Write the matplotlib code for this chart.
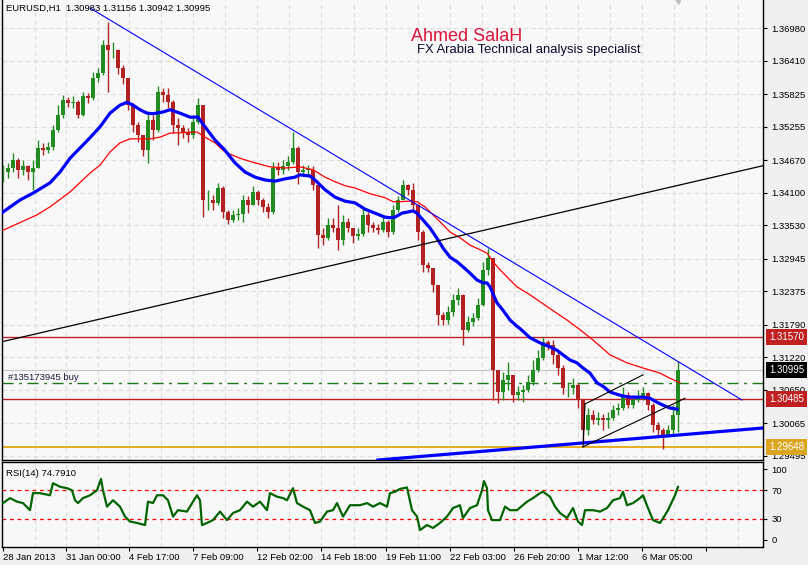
import numpy as np
import matplotlib
matplotlib.use("Agg")
import matplotlib.pyplot as plt
import matplotlib.transforms as mtransforms

plt.rcParams['font.family'] = ['Liberation Sans', 'DejaVu Sans']
plt.rcParams['font.size'] = 6.8

# EURUSD H1, one candle every 5 hours (28 Jan - 7 Mar 2013)
close = [1.3446, 1.3453, 1.3467, 1.3450, 1.3456, 1.3446, 1.3453, 1.3488, 1.3484, 1.3490,
         1.3519, 1.3546, 1.3572, 1.3567, 1.3568, 1.3546, 1.3579, 1.3575, 1.3610, 1.3619,
         1.3668, 1.3659, 1.3659, 1.3628, 1.3610, 1.3563, 1.3528, 1.3511, 1.3484, 1.3537,
         1.3519, 1.3586, 1.3581, 1.3568, 1.3528, 1.3523, 1.3516, 1.3511, 1.3533, 1.3563,
         1.3397, 1.3397, 1.3392, 1.3418, 1.3376, 1.3362, 1.3371, 1.3372, 1.3397, 1.3388,
         1.3411, 1.3397, 1.3385, 1.3376, 1.3453, 1.3450, 1.3456, 1.3463, 1.3488, 1.3446,
         1.3450, 1.3450, 1.3423, 1.3336, 1.3330, 1.3353, 1.3348, 1.3327, 1.3358, 1.3348,
         1.3334, 1.3337, 1.3371, 1.3353, 1.3348, 1.3344, 1.3358, 1.3341, 1.3379, 1.3397,
         1.3423, 1.3414, 1.3388, 1.3341, 1.3283, 1.3278, 1.3248, 1.3196, 1.3187, 1.3201,
         1.3222, 1.3231, 1.3169, 1.3183, 1.3190, 1.3213, 1.3274, 1.3295, 1.3099, 1.3061,
         1.3082, 1.3091, 1.3056, 1.3061, 1.3064, 1.3078, 1.3099, 1.3120, 1.3148, 1.3143,
         1.3126, 1.3103, 1.3068, 1.3068, 1.3073, 1.3047, 1.2994, 1.3021, 1.3012, 1.3015,
         1.3012, 1.3015, 1.3029, 1.3033, 1.3056, 1.3038, 1.3047, 1.3054, 1.3059, 1.3038,
         1.3003, 1.2994, 1.2986, 1.2994, 1.3021, 1.30995]
high = [1.3458, 1.3462, 1.3479, 1.3470, 1.3467, 1.3458, 1.3467, 1.3502, 1.3497, 1.3499,
        1.3528, 1.3563, 1.3581, 1.3577, 1.3579, 1.3572, 1.3586, 1.3584, 1.3621, 1.3628,
        1.3677, 1.3709, 1.3674, 1.3662, 1.3633, 1.3610, 1.3567, 1.3533, 1.3511, 1.3551,
        1.3546, 1.3597, 1.3593, 1.3593, 1.3572, 1.3541, 1.3528, 1.3523, 1.3541, 1.3575,
        1.3563, 1.3415, 1.3406, 1.3427, 1.3422, 1.3380, 1.3380, 1.3383, 1.3406, 1.3404,
        1.3422, 1.3415, 1.3401, 1.3392, 1.3463, 1.3463, 1.3467, 1.3474, 1.3516, 1.3492,
        1.3458, 1.3458, 1.3456, 1.3423, 1.3348, 1.3366, 1.3366, 1.3388, 1.3371, 1.3366,
        1.3348, 1.3348, 1.3383, 1.3376, 1.3358, 1.3355, 1.3371, 1.3362, 1.3388, 1.3404,
        1.3432, 1.3425, 1.3427, 1.3390, 1.3345, 1.3289, 1.3278, 1.3248, 1.3201, 1.3212,
        1.3233, 1.3243, 1.3233, 1.3194, 1.3199, 1.3226, 1.3289, 1.3313, 1.3295, 1.3099,
        1.3096, 1.3114, 1.3091, 1.3072, 1.3073, 1.3091, 1.3117, 1.3135, 1.3157, 1.3152,
        1.3152, 1.3131, 1.3108, 1.3078, 1.3086, 1.3077, 1.3047, 1.3033, 1.3029, 1.3026,
        1.3023, 1.3026, 1.3039, 1.3042, 1.3070, 1.3061, 1.3056, 1.3065, 1.3070, 1.3061,
        1.3042, 1.3009, 1.2998, 1.3003, 1.3038, 1.31156]
low = [1.3429, 1.3436, 1.3446, 1.3436, 1.3441, 1.3432, 1.3415, 1.3453, 1.3476, 1.3479,
       1.3484, 1.3516, 1.3541, 1.3560, 1.3558, 1.3541, 1.3544, 1.3567, 1.3572, 1.3604,
       1.3616, 1.3586, 1.3646, 1.3618, 1.3600, 1.3555, 1.3516, 1.3499, 1.3474, 1.3462,
       1.3502, 1.3516, 1.3568, 1.3558, 1.3514, 1.3493, 1.3506, 1.3499, 1.3506, 1.3530,
       1.3367, 1.3380, 1.3380, 1.3388, 1.3366, 1.3355, 1.3358, 1.3362, 1.3358, 1.3374,
       1.3388, 1.3388, 1.3376, 1.3366, 1.3372, 1.3441, 1.3443, 1.3450, 1.3460, 1.3425,
       1.3439, 1.3441, 1.3415, 1.3313, 1.3318, 1.3327, 1.3341, 1.3310, 1.3318, 1.3341,
       1.3322, 1.3327, 1.3334, 1.3341, 1.3341, 1.3337, 1.3341, 1.3332, 1.3337, 1.3376,
       1.3397, 1.3406, 1.3376, 1.3327, 1.3271, 1.3271, 1.3236, 1.3178, 1.3178, 1.3180,
       1.3194, 1.3213, 1.3143, 1.3166, 1.3176, 1.3187, 1.3212, 1.3266, 1.3047, 1.3042,
       1.3047, 1.3065, 1.3043, 1.3047, 1.3043, 1.3061, 1.3073, 1.3096, 1.3117, 1.3135,
       1.3110, 1.3091, 1.3058, 1.3052, 1.3058, 1.3033, 1.2974, 1.2986, 1.3005, 1.3003,
       1.2995, 1.2998, 1.3012, 1.3021, 1.3029, 1.3033, 1.3033, 1.3043, 1.3047, 1.3029,
       1.2991, 1.2986, 1.2961, 1.2982, 1.2988, 1.2991]

# moving averages as drawn on the chart (hour from start, price)
ma_fast_h = [0, 17, 30, 47, 57, 67, 77, 87, 97, 107, 117, 124, 130, 137, 144, 150, 160, 167,
             177, 187, 195, 202, 212, 222, 232, 242, 252, 262, 272, 282, 292, 297, 307, 312,
             322, 332, 342, 352, 362, 372, 382, 387, 392, 399, 405, 410, 414, 420, 427, 434,
             440, 447, 454, 460, 467, 474, 480, 484, 487, 494, 500, 507, 514, 517, 527, 537,
             547, 554, 560, 567, 574, 580, 587, 594, 600, 607, 614, 620, 627, 634, 640, 647,
             654, 660, 667, 674]
ma_fast = [1.3376, 1.3397, 1.3409, 1.3427, 1.3446, 1.3470, 1.3488, 1.3506, 1.3525, 1.3549,
           1.3563, 1.3568, 1.3563, 1.3555, 1.3549, 1.3548, 1.3551, 1.3555, 1.3549, 1.3542,
           1.3542, 1.3525, 1.3502, 1.3484, 1.3462, 1.3446, 1.3437, 1.3432, 1.3430, 1.3434,
           1.3437, 1.3441, 1.3439, 1.3432, 1.3415, 1.3402, 1.3395, 1.3392, 1.3381, 1.3374,
           1.3367, 1.3366, 1.3367, 1.3374, 1.3376, 1.3378, 1.3374, 1.3362, 1.3348, 1.3330,
           1.3313, 1.3297, 1.3289, 1.3280, 1.3269, 1.3257, 1.3252, 1.3252, 1.3245, 1.3217,
           1.3204, 1.3187, 1.3176, 1.3172, 1.3156, 1.3147, 1.3140, 1.3134, 1.3126, 1.3117,
           1.3112, 1.3103, 1.3094, 1.3077, 1.3071, 1.3061, 1.3057, 1.3054, 1.3052, 1.3052,
           1.3052, 1.3050, 1.3043, 1.3038, 1.3033, 1.3031]
ma_slow_h = [0, 34, 47, 67, 87, 97, 107, 117, 127, 147, 157, 167, 194, 202, 212, 222, 237, 252,
             267, 282, 297, 310, 322, 332, 342, 352, 367, 382, 390, 397, 407, 414, 422, 430,
             437, 447, 457, 467, 477, 484, 490, 497, 507, 514, 527, 542, 552, 564, 577, 590,
             607, 624, 640, 657, 667, 677]
ma_slow = [1.3344, 1.3371, 1.3385, 1.3411, 1.3444, 1.3458, 1.3481, 1.3497, 1.3504, 1.3504,
           1.3507, 1.3514, 1.3516, 1.3507, 1.3497, 1.3481, 1.3470, 1.3462, 1.3455, 1.3453,
           1.3455, 1.3450, 1.3437, 1.3429, 1.3422, 1.3418, 1.3408, 1.3401, 1.3394, 1.3394,
           1.3395, 1.3394, 1.3385, 1.3371, 1.3359, 1.3341, 1.3331, 1.3318, 1.3310, 1.3304,
           1.3289, 1.3275, 1.3257, 1.3245, 1.3231, 1.3213, 1.3201, 1.3187, 1.3170, 1.3152,
           1.3126, 1.3112, 1.3103, 1.3094, 1.3085, 1.3077]

# RSI(14)
rsi_h = [0, 7, 14, 20, 27, 30, 37, 47, 50, 57, 64, 69, 72, 75, 80, 87, 94, 98, 100, 104,
         110, 117, 122, 127, 134, 142, 145, 150, 154, 160, 165, 170, 175, 184, 190, 194, 197,
         199, 204, 210, 217, 224, 230, 237, 244, 250, 257, 264, 267, 274, 280, 284, 290, 294,
         300, 307, 312, 317, 324, 330, 334, 340, 347, 357, 364, 370, 377, 384, 387, 392, 397,
         404, 409, 414, 417, 424, 430, 437, 444, 450, 457, 460, 467, 474, 479, 481, 484, 485,
         489, 497, 502, 507, 514, 524, 530, 537, 540, 547, 552, 557, 564, 570, 575, 579, 582,
         590, 597, 604, 610, 617, 620, 624, 630, 637, 640, 645, 650, 657, 662, 665, 669, 672,
         675]
rsi = [52, 59, 54, 52, 42, 66, 66, 63, 80, 75, 73, 70, 56, 52, 59, 63, 70, 86, 70, 47,
       56, 47, 33, 26, 24, 21, 54, 52, 63, 63, 56, 33, 42, 40, 54, 63, 56,
       21, 24, 28, 40, 28, 38, 42, 54, 47, 54, 42, 66, 61, 59, 56, 73, 52,
       47, 42, 24, 26, 40, 42, 52, 33, 49, 49, 52, 47, 52, 47, 66, 68, 72,
       74, 42, 33, 14, 21, 17, 24, 33, 45, 49, 31, 45, 49, 70, 83, 73, 42,
       28, 28, 47, 42, 42, 54, 59, 66, 68, 61, 47, 38, 31, 45, 26, 21, 42,
       42, 40, 45, 56, 59, 68, 49, 52, 59, 63, 45, 28, 24, 35, 42, 54, 63,
       74.79]

price_ticks = [1.36980, 1.36410, 1.35825, 1.35255, 1.34670, 1.34100, 1.33530,
               1.32945, 1.32375, 1.31790, 1.31220, 1.30650, 1.30065, 1.29495]
time_ticks = [0, 63, 126, 190, 254, 318, 383, 447, 511, 575, 639, 703]
time_labels = ["28 Jan 2013", "31 Jan 00:00", "4 Feb 17:00", "7 Feb 09:00",
               "12 Feb 02:00", "14 Feb 18:00", "19 Feb 11:00", "22 Feb 03:00",
               "26 Feb 20:00", "1 Mar 12:00", "6 Mar 05:00", ""]

# levels
res_level = 1.31570
mid_level = 1.30485
sup_level = 1.29648
order_level = 1.30775
bid = 1.30995

# trend lines: (hours, prices)
down_tl = ([87, 739], [1.3733, 1.3047])
up_tl = ([-1, 760], [1.3149, 1.3457])
base_tl = ([375, 760], [1.2942, 1.2998])
chan_low = ([580, 682], [1.2965, 1.3050])
chan_up = ([582, 640], [1.3040, 1.3091])
chan_side = ([580, 582], [1.2965, 1.3040])

close = np.array(close)
high = np.array(high)
low = np.array(low)
x = np.arange(len(close)) * 5
opens = np.r_[close[0], close[:-1]]
up = close >= opens
cols = np.where(up, '#228b22', '#b22222')
top = np.maximum(high, np.maximum(opens, close))
bot = np.minimum(low, np.minimum(opens, close))

fig = plt.figure(figsize=(8.08, 5.65), dpi=100, facecolor='#f0f0f0')
ax = fig.add_axes([2/808, 105/565, 761/808, 460/565], facecolor='#f8f8f8')
ax2 = fig.add_axes([2/808, 18/565, 761/808, 85/565], facecolor='#f8f8f8', sharex=ax)

ax.set_xlim(-1, 760)
ax.set_ylim(1.29420, 1.37470)
ax2.set_ylim(-9.9, 109.9)

grid_x = []
for a, b in zip(time_ticks[:-1], time_ticks[1:]):
    grid_x += [a, (a + b) / 2]
grid_x += [time_ticks[-1], time_ticks[-1] + 32]
for g in grid_x[1:]:
    ax.axvline(g, color='#dcdcdc', lw=0.8, ls=(0, (4, 3)), zorder=0)
    ax2.axvline(g, color='#dcdcdc', lw=0.8, ls=(0, (4, 3)), zorder=0)
for p in price_ticks:
    ax.axhline(p, color='#dcdcdc', lw=0.8, ls=(0, (4, 3)), zorder=0)

# horizontal levels
ax.axhline(bid, color='#c8c8c8', lw=0.8, zorder=1)
ax.axhline(res_level, color='#c02020', lw=1, zorder=2)
ax.axhline(mid_level, color='#c02020', lw=1, zorder=2)
ax.axhline(sup_level, color='#e0a000', lw=1.2, zorder=2)
ax.axhline(order_level, color='#1a7a1a', lw=1, ls=(0, (8, 4, 2, 4)), zorder=2)

# candles
ax.vlines(x, bot, top, colors=cols, lw=1.0, zorder=3)
body = np.maximum(np.abs(close - opens), 0.00006)
ax.bar(x, body, bottom=np.minimum(opens, close), width=4.0, color=cols, lw=0, zorder=3)

# moving averages
ax.plot(ma_slow_h, ma_slow, color='#ff0000', lw=0.9, zorder=4)
ax.plot(ma_fast_h, ma_fast, color='#0000ff', lw=2.3, zorder=4)

# trend lines
ax.plot(*down_tl, color='#0000ff', lw=0.8, zorder=5)
ax.plot(*up_tl, color='black', lw=0.9, zorder=5)
ax.plot(*base_tl, color='#0000ff', lw=2.3, zorder=5)
for ln in (chan_low, chan_up, chan_side):
    ax.plot(*ln, color='black', lw=0.8, zorder=5)

ax.plot([675], [1.3745], marker='v', color='#c0c0c0', ms=5, clip_on=False, zorder=6)

# axes styling
for a in (ax, ax2):
    for s in a.spines.values():
        s.set_color('black')
        s.set_linewidth(1)
    a.yaxis.tick_right()
    a.tick_params(axis='y', length=3, width=0.8, pad=3, labelsize=6.8, colors='black')
ax.spines['top'].set_visible(False)

ax.set_yticks(price_ticks)
ax.set_yticklabels(['%.5f' % p for p in price_ticks])
ax.tick_params(axis='x', bottom=False, labelbottom=False)

ax2.set_yticks([0, 30, 70, 100])
ax2.set_yticklabels(['0', '30', '70', '100'])
ax2.set_xticks(time_ticks)
ax2.set_xticklabels(time_labels, ha='left')
ax2.tick_params(axis='x', length=3, width=0.8, pad=1.5, labelsize=6.8)

# price boxes on the right scale
trans = mtransforms.blended_transform_factory(ax.transAxes, ax.transData)
for lvl, fc in ((res_level, '#c02020'), (bid, 'black'), (mid_level, '#c02020'), (sup_level, '#daa520')):
    ax.text(1.008, lvl, '%.5f' % lvl, transform=trans, color='white', fontsize=7,
            ha='left', va='center', zorder=10, clip_on=False,
            bbox=dict(boxstyle='square,pad=0.3', fc=fc, ec='none'))

# RSI
ax2.plot(rsi_h, rsi, color='#006400', lw=1.6, zorder=3)
ax2.axhline(70, color='#ff0000', lw=0.9, ls=(0, (3, 3)), zorder=2)
ax2.axhline(30, color='#ff0000', lw=0.9, ls=(0, (3, 3)), zorder=2)

# texts
fig.text(6/808, 1 - 10.5/565, 'EURUSD,H1  1.30983 1.31156 1.30942 1.30995', fontsize=6.8,
         va='baseline', ha='left', color='black')
fig.text(6/808, 1 - 476/565, 'RSI(14) 74.7910', fontsize=6.8, va='baseline', ha='left', color='black')
fig.text(8/808, 1 - 380/565, '#135173945 buy', fontsize=6.8, va='baseline', ha='left', color='#1a1a3a')
fig.text(411/808, 1 - 41/565, 'Ahmed SalaH', fontsize=13, va='baseline', ha='left', color='#dc143c')
fig.text(417/808, 1 - 53/565, 'FX Arabia Technical analysis specialist', fontsize=9.4,
         va='baseline', ha='left', color='#0a0a30')

fig.savefig('out.png', dpi=100, facecolor=fig.get_facecolor())
